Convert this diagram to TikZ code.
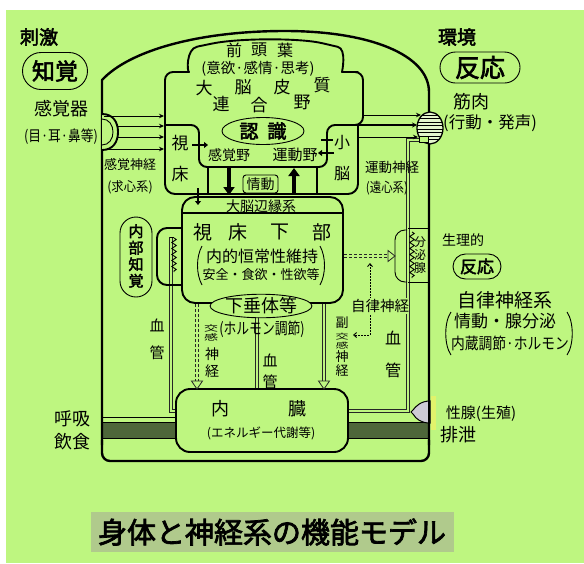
\documentclass[tikz,border=0pt]{standalone}
\usepackage{fontspec}
\usepackage{graphicx}
\setmainfont{Noto Sans CJK JP}
\newfontfamily\jpbold[FakeBold=2.5]{Noto Sans CJK JP}
\usetikzlibrary{arrows.meta,shapes.misc,shapes.geometric,decorations.pathmorphing}

\definecolor{bg}{RGB}{190,246,128}
\definecolor{bandfill}{RGB}{78,102,58}
\definecolor{titlebg}{RGB}{176,202,140}
\definecolor{glandfill}{RGB}{206,203,214}
\definecolor{muscfill}{RGB}{228,246,204}
\definecolor{glow}{RGB}{240,242,100}

\newcommand{\fs}[1]{\fontsize{#1}{#1}\selectfont}
\newcommand{\hsq}[2]{\scalebox{#1}[1]{#2}}
\newcommand{\vsq}[2]{\scalebox{1}[#1]{#2}}

\tikzset{
  txt/.style={inner sep=0pt, font=\fs{#1}},
  btxt/.style={inner sep=0pt, font=\jpbold\fs{#1}},
  vtxt/.style 2 args={inner sep=0pt, align=center, font=\fontsize{#1}{#2}\selectfont},
  bodyline/.style={line width=2.4pt, line join=round},
  organ/.style={line width=1.9pt, line join=round},
  wall/.style={line width=1.4pt},
  thinl/.style={line width=0.9pt},
  sig/.style={line width=0.9pt, -{Stealth[length=5pt,width=4.5pt]}},
  shortsig/.style={line width=1.8pt, -{Triangle[length=4pt,width=6pt]}},
  bigsig/.style={line width=3.6pt, -{Triangle[length=8pt,width=11pt]}},
  vessel/.style={draw=black!85, line width=0.7pt, double=bg, double distance=2pt},
  dvessel/.style={draw=black!85, line width=0.7pt, double=bg, double distance=2.4pt, dash pattern=on 3pt off 2pt},
  openhead/.style={draw=black!85, line width=0.8pt, fill=bg, line join=miter},
  dotsig/.style={line width=0.9pt, dash pattern=on 1.4pt off 1.6pt},
  stadium/.style={rounded rectangle, draw, line width=0.9pt, inner sep=0pt},
}

\begin{document}
\begin{tikzpicture}[x=1pt,y=-1pt]
\useasboundingbox (0,0) rectangle (584,563);
\fill[white] (0,0) rectangle (584,563);
\fill[bg] (6,10) rectangle (584,563);

% ---- respiratory / digestive tract bands
\fill[bandfill] (102,422) rectangle (176,438);
\fill[bandfill] (348,422) rectangle (429,438);
\draw[thinl] (102,422) rectangle (176,438);
\draw[thinl] (348,422) rectangle (429,438);
\draw[thinl] (102,417) -- (176,417);

% ---- blood vessels
\draw[vessel] (171,237) -- (171,411) -- (179,411);
\draw[vessel] (257,316) -- (257,391);
\draw[vessel] (421,140) -- (408,140) -- (408,411) -- (345,411);
\draw[thinl, decorate, decoration={zigzag, segment length=6pt, amplitude=2.2pt}] (174,238) -- (174,272);
\draw[thinl] (169.6,237) -- (174,237);

% ---- body outline
\draw[bodyline] (102,445) -- (102,80) .. controls (130,50) and (200,31) .. (285,31)
      .. controls (370,31) and (429,55) .. (429,92) -- (429,445);
\draw[bodyline, rounded corners=8] (102,440) -- (102,461) -- (429,461) -- (429,440);

% ---- cerebral cortex
\draw[organ, rounded corners=8] (165,125) -- (165,72) -- (181,72)
      .. controls (187,72) and (186,49) .. (205,45)
      .. controls (240,38) and (300,38) .. (330,45)
      .. controls (347,49) and (342,72) .. (350,72) -- (363,72) -- (363,125)
      -- (327,125) -- (327,167) -- (199,167) -- (199,125) -- (165,125);
% thalamus / cerebellum frame
\draw[organ, rounded corners=10] (165,125) -- (165,194) -- (358,194) -- (358,125);
\draw[wall] (208,167) -- (208,194) (317,167) -- (317,194);

% ---- limbic system / hypothalamus
\draw[organ, rounded corners=13] (182,197) rectangle (343,303);
\draw[wall] (182,213) -- (343,213);
\draw[organ, rounded corners=10] (182,228) -- (157,228) -- (157,285) -- (182,285);
\draw[thinl, rounded corners=10] (407,230) -- (395,230) -- (395,282) -- (407,282);
\node[ellipse, draw, fill=bg, line width=0.9pt, minimum width=92pt, minimum height=22pt,
      inner sep=0pt, font=\fs{18}] (hyp) at (261,306) {下垂体等};

% ---- secretory gland box
\draw[thinl] (408,228) -- (429,228) (408,282) -- (429,282);
\draw[thinl, decorate, decoration={zigzag, segment length=6pt, amplitude=2.2pt}] (412,232) -- (412,278);

% ---- viscera
\draw[organ, fill=bg, rounded corners=14] (176,389) rectangle (348,452);

% ---- sense organ
\draw[organ, fill=bg] (102,114) .. controls (113,114) and (118,122) .. (118,132)
      .. controls (118,142) and (113,150) .. (102,150);
\draw[thinl] (102,119) .. controls (109,119) and (113,125) .. (113,132)
      .. controls (113,139) and (109,145) .. (102,145);
\coordinate (s1) at (104,116); \coordinate (s2) at (118,126);
\coordinate (s3) at (118,137); \coordinate (s4) at (104,149);
\draw[sig] (s1) -- (164,116);
\draw[sig] (s2) -- (164,126);
\draw[sig] (s3) -- (164,137);
\draw[sig] (s4) -- (164,149);

% ---- muscle
\begin{scope}
  \clip (430,128) ellipse [x radius=13, y radius=16];
  \fill[muscfill] (416,110) rectangle (444,146);
  \foreach \yy in {115,118.5,...,142} \draw[line width=1pt] (416,\yy) -- (444,\yy);
\end{scope}
\draw[line width=1.3pt] (430,128) ellipse [x radius=13, y radius=16];
\draw[thinl, fill=bg] (419,136) rectangle (428,142);
\draw[sig] (363,115) -- (421,115);
\draw[line width=2pt, -{Stealth[length=5pt,width=5pt]}] (355,125) -- (417,125);
\draw[sig] (358,137) -- (418,137);

% ---- gonad
\fill[glow, opacity=0.7] (431,396) rectangle (436,430);
\draw[line width=1pt, fill=glandfill] (430,401) .. controls (421,401) and (416,406) .. (413,410)
      -- (411,412) -- (413,414) .. controls (416,419) and (421,423) .. (430,423) -- cycle;
\draw[bodyline] (429,398) -- (429,428);

% ---- internal signal arrows
\draw[shortsig] (192,145) -- (208,145);
\draw[line width=1.8pt] (321,140) -- (333,140);
\draw[shortsig] (334,153) -- (318,153);
\draw[shortsig] (198,188) -- (198,205);
\draw[bigsig] (229,168) -- (229,195);
\draw[bigsig] (294,195) -- (294,168);
\node[draw, rounded corners=3pt, line width=0.9pt, minimum width=35pt, minimum height=18pt,
      inner sep=0pt, font=\fs{14}] (jodo) at (260.5,184) {情動};

% sympathetic / parasympathetic / autonomic
\draw[dvessel] (197,304) -- (197,382);
\draw[openhead] (191.5,381) -- (197,389) -- (202.5,381) -- cycle;
\draw[vessel] (324,304) -- (324,382);
\draw[openhead] (318.5,381) -- (324,389) -- (329.5,381) -- cycle;
\draw[dvessel] (344,256) -- (388,256);
\draw[openhead] (388,250.5) -- (395,256) -- (388,261.5) -- cycle;
\draw[dotsig, {Straight Barb[length=3pt,width=5pt]}-{Straight Barb[length=3pt,width=5pt]}]
      (370,263) -- (370,335) -- (353,335);

% ---- labels: cortex
\node[txt=16] (f1) at (234,50) {前};
\node[txt=16] (f2) at (259,50) {頭};
\node[txt=16] (f3) at (285,50) {葉};
\node[txt=14.5] (f4) at (258,69) {(意欲·感情·思考)};
\node[txt=17] (c1) at (204,88) {大};
\node[txt=17] (c2) at (243,87) {脳};
\node[txt=17] (c3) at (282,87) {皮};
\node[txt=17] (c4) at (322,85) {質};
\node[txt=17] (c5) at (221,104) {連};
\node[txt=17] (c6) at (259,105) {合};
\node[txt=17] (c7) at (302,102) {野};
\node[ellipse, draw, line width=0.9pt, minimum width=82pt, minimum height=27pt, inner sep=0pt,
      font=\jpbold\fs{19}] (ninshiki) at (263,131) {認\hspace{9pt}識};
\node[txt=14] (kankakuya) at (229,155) {感覚野};
\node[txt=15] (undouya) at (295,155) {運動野};
\node[txt=17] (sh1) at (180,143) {視};
\node[txt=17] (sh2) at (180,174) {床};
\node[txt=16] (sn1) at (342,143) {小};
\node[txt=16] (sn2) at (342,174) {脳};
\node[txt=14] (limbic) at (261,206) {大脳辺縁系};

% ---- labels: hypothalamus
\node[txt=19] (h1) at (203,232) {視};
\node[txt=19] (h2) at (238,232) {床};
\node[txt=19] (h3) at (280,232) {下};
\node[txt=19] (h4) at (322,232) {部};
\node[txt=16] (homeo) at (262,256) {内的恒常性維持};
\node[txt=13] (needs) at (261,275) {安全・食欲・性欲等};
\draw[thinl] (202,246) .. controls (196,257) and (196,274) .. (202,285);
\draw[thinl] (320,246) .. controls (326,257) and (326,274) .. (320,285);
\node[txt=16] (hormone) at (262,329) {\hsq{0.8}{(ホルモン調節)}};

% ---- labels: left
\node[btxt=19] (shigeki) at (39,37) {刺激};
\node[stadium, minimum width=65pt, minimum height=37pt, font=\jpbold\fs{23}] (chikaku) at (55,71) {知覚};
\node[txt=18] (kankakuki) at (61.5,108.5) {感覚器};
\node[txt=15] (organs) at (61,137) {\hsq{0.85}{(目·耳·鼻等)}};
\node[txt=13] (sensnerve) at (130,165) {感覚神経};
\node[txt=13] (afferent) at (130,187) {\hsq{0.95}{(求心系)}};
\draw[line width=0.9pt, rounded corners=16pt] (120,217) rectangle (152,297);
\node[vtxt={15}{16.5}, font=\jpbold\fontsize{15}{16.5}\selectfont] (naibu) at (136,256) {内\\部\\知\\覚};
\node[txt=15] (ketsu1) at (157,325) {血};
\node[txt=15] (kan1) at (157,353) {管};
\node[txt=14] (ks12) at (211,333) {\scalebox{1}[0.58]{\shortstack{交\\感}}};
\node[txt=14] (ks3) at (212,354) {神};
\node[txt=14] (ks4) at (212,371) {経};
\node[txt=15] (ketsu2) at (270,360) {血};
\node[txt=15] (kan2) at (270,382) {管};
\node[txt=13] (fk1) at (342,323) {副};
\node[txt=13] (fk23) at (342,341) {\scalebox{1}[0.58]{\shortstack{交\\感}}};
\node[txt=13] (fk4) at (342,357) {神};
\node[txt=13] (fk5) at (342,371) {経};
\node[txt=14.5, fill=bg, inner ysep=1pt] (autonomic) at (380,306) {自律神経};
\node[txt=16] (ketsu3) at (393,338) {血};
\node[txt=16] (kan3) at (393,370) {管};
\node[vtxt={12}{13}] (bunpi) at (420,255) {分\\泌\\腺};

% ---- labels: right
\node[btxt=19] (kankyo) at (457,37) {環境};
\node[stadium, minimum width=80pt, minimum height=31pt, font=\jpbold\fs{25}] (hanno) at (480,67.5) {反応};
\node[txt=18] (kinniku) at (471,102) {筋肉};
\node[txt=16.5] (action) at (490,123.5) {(行動・発声)};
\node[txt=13.5] (motornerve) at (392,167) {運動神経};
\node[txt=13.5] (efferent) at (387,188) {\hsq{0.85}{(遠心系)}};
\node[txt=14] (seiriteki) at (463,240) {生理的};
\node[stadium, minimum width=48pt, minimum height=25pt, font=\jpbold\fs{17}] (hanno2) at (477,266.5) {反応};
\node[txt=19] (ans) at (505,300) {自律神経系};
\node[txt=17] (ans1) at (505,321) {情動・腺分泌};
\node[txt=16] (ans2) at (510,343) {\hsq{0.86}{内蔵調節·ホルモン}};
\draw[thinl] (451,312) .. controls (444,322) and (444,345) .. (451,355);
\draw[thinl] (567,312) .. controls (574,322) and (574,345) .. (567,355);

% ---- labels: bottom
\node[txt=18] (naizo1) at (220,409) {内};
\node[txt=18] (naizo2) at (297,409) {臓};
\node[txt=12.5] (energy) at (261,433) {(エネルギー代謝等)};
\node[txt=18] (kokyu) at (72,419) {呼吸};
\node[txt=18] (inshoku) at (72,442) {飲食};
\node[txt=15] (seisen) at (481,414) {性腺(生殖)};
\node[txt=18] (haisetsu) at (458,435) {排泄};

% ---- title
\node[fill=titlebg, minimum width=363pt, minimum height=40pt, inner sep=0pt] (titlebox) at (272.5,532) {};
\node[btxt=29] (title) at (272,532) {身体と神経系の機能モデル};
\end{tikzpicture}
\end{document}
